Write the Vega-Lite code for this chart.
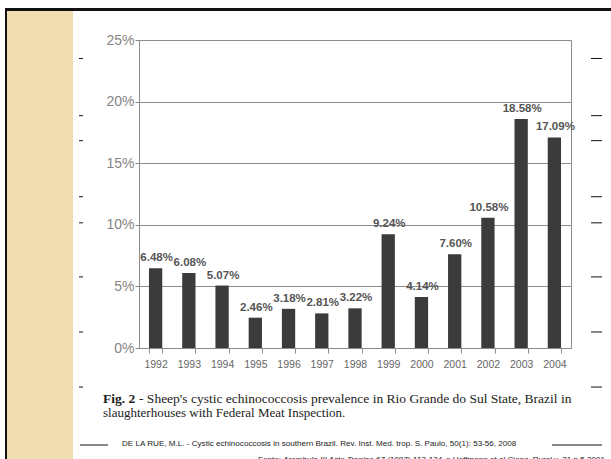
{
  "$schema": "https://vega.github.io/schema/vega-lite/v6.json",
  "width": 432,
  "height": 308,
  "autosize": {"type": "none"},
  "padding": {"left": 139, "top": 40, "right": 40, "bottom": 111},
  "background": "#ffffff",
  "config": {
    "view": {"stroke": "#8c8c8c", "strokeWidth": 1},
    "font": "Liberation Sans"
  },
  "data": {
    "values": [
      {"year": "1992", "value": 6.48, "label": "6.48%"},
      {"year": "1993", "value": 6.08, "label": "6.08%"},
      {"year": "1994", "value": 5.07, "label": "5.07%"},
      {"year": "1995", "value": 2.46, "label": "2.46%"},
      {"year": "1996", "value": 3.18, "label": "3.18%"},
      {"year": "1997", "value": 2.81, "label": "2.81%"},
      {"year": "1998", "value": 3.22, "label": "3.22%"},
      {"year": "1999", "value": 9.24, "label": "9.24%"},
      {"year": "2000", "value": 4.14, "label": "4.14%"},
      {"year": "2001", "value": 7.60, "label": "7.60%"},
      {"year": "2002", "value": 10.58, "label": "10.58%"},
      {"year": "2003", "value": 18.58, "label": "18.58%"},
      {"year": "2004", "value": 17.09, "label": "17.09%"}
    ]
  },
  "layer": [
    {
      "data": {"values": [{}]},
      "mark": {"type": "rect", "color": "#efdcb0"},
      "encoding": {"x": {"value": -132}, "x2": {"value": -66}, "y": {"value": -29}, "y2": {"value": 419}}
    },
    {
      "data": {"values": [{}]},
      "mark": {"type": "rect", "color": "#111111"},
      "encoding": {"x": {"value": -134}, "x2": {"value": 472}, "y": {"value": -32}, "y2": {"value": -29}}
    },
    {
      "data": {"values": [{}]},
      "mark": {"type": "rect", "color": "#111111"},
      "encoding": {"x": {"value": -134}, "x2": {"value": -132}, "y": {"value": -32}, "y2": {"value": 419}}
    },
    {
      "data": {"values": [{"d": 23.5}, {"d": 18.86}, {"d": 16.83}, {"d": 12.28}, {"d": 10.16}, {"d": 5.77}, {"d": 1.3}, {"d": -3.17}]},
      "mark": {"type": "rule", "color": "#111111", "strokeWidth": 1},
      "encoding": {"y": {"field": "d", "type": "quantitative"}, "x": {"value": -60}, "x2": {"value": -56}}
    },
    {
      "data": {"values": [{"d": 23.5}, {"d": 18.86}, {"d": 16.83}, {"d": 12.28}, {"d": 10.16}, {"d": 5.77}, {"d": 1.3}, {"d": -3.17}]},
      "mark": {"type": "rule", "color": "#111111", "strokeWidth": 1},
      "encoding": {"y": {"field": "d", "type": "quantitative"}, "x": {"value": 452}, "x2": {"value": 463}}
    },
    {
      "mark": {"type": "bar", "color": "#3b3b3b"},
      "encoding": {
        "x": {
          "field": "year", "type": "nominal", "sort": null,
          "scale": {"paddingInner": 0.6, "paddingOuter": 0.3},
          "axis": {
            "title": null, "labelAngle": 0, "tickBand": "extent", "grid": false,
            "domainColor": "#8c8c8c", "tickColor": "#8c8c8c", "tickSize": 5,
            "labelFont": "Liberation Sans", "labelFontSize": 10.5, "labelColor": "#666666", "labelPadding": 6
          }
        },
        "y": {
          "field": "value", "type": "quantitative",
          "scale": {"domain": [0, 25], "nice": false, "zero": true},
          "axis": {
            "title": null, "values": [0, 5, 10, 15, 20, 25], "labelExpr": "datum.value + '%'",
            "grid": true, "gridColor": "#8c8c8c", "domainColor": "#8c8c8c", "tickColor": "#8c8c8c",
            "tickSize": 4, "labelPadding": 1, "labelFont": "Liberation Sans", "labelFontSize": 14, "labelColor": "#858585"
          }
        }
      }
    },
    {
      "mark": {"type": "text", "baseline": "bottom", "dy": -5, "dx": 1, "font": "Liberation Sans", "fontSize": 11.5, "fontWeight": "bold", "color": "#555555"},
      "encoding": {
        "x": {"field": "year", "type": "nominal", "sort": null},
        "y": {"field": "value", "type": "quantitative"},
        "text": {"field": "label"}
      }
    },
    {
      "data": {"values": [{}]},
      "mark": {"type": "text", "align": "left", "baseline": "alphabetic", "font": "Liberation Serif", "fontSize": 13.5, "fontWeight": "bold", "color": "#222222"},
      "encoding": {"x": {"value": -36}, "y": {"value": 363}, "text": {"value": "Fig. 2"}}
    },
    {
      "data": {"values": [{}]},
      "mark": {"type": "text", "align": "left", "baseline": "alphabetic", "font": "Liberation Serif", "fontSize": 13.5, "color": "#222222"},
      "encoding": {"x": {"value": 0}, "y": {"value": 363}, "text": {"value": "- Sheep's cystic echinococcosis prevalence in Rio Grande do Sul State, Brazil in"}}
    },
    {
      "data": {"values": [{}]},
      "mark": {"type": "text", "align": "left", "baseline": "alphabetic", "font": "Liberation Serif", "fontSize": 13, "color": "#222222"},
      "encoding": {"x": {"value": -36}, "y": {"value": 377}, "text": {"value": "slaughterhouses with Federal Meat Inspection."}}
    },
    {
      "data": {"values": [{}]},
      "mark": {"type": "text", "align": "left", "baseline": "alphabetic", "font": "Liberation Sans", "fontSize": 8.1, "color": "#222222"},
      "encoding": {"x": {"value": -17}, "y": {"value": 406}, "text": {"value": "DE LA RUE, M.L. - Cystic echinococcosis in southern Brazil. Rev. Inst. Med. trop. S. Paulo, 50(1): 53-56, 2008"}}
    },
    {
      "data": {"values": [{}]},
      "mark": {"type": "rule", "color": "#111111", "strokeWidth": 1},
      "encoding": {"x": {"value": -59}, "x2": {"value": -31}, "y": {"value": 405}}
    },
    {
      "data": {"values": [{}]},
      "mark": {"type": "rule", "color": "#111111", "strokeWidth": 1},
      "encoding": {"x": {"value": 413}, "x2": {"value": 463}, "y": {"value": 405}}
    },
    {
      "data": {"values": [{}]},
      "mark": {"type": "text", "align": "left", "baseline": "alphabetic", "font": "Liberation Sans", "fontSize": 8.1, "color": "#222222"},
      "encoding": {"x": {"value": 119}, "y": {"value": 422}, "text": {"value": "Fonte:"}}
    },
    {
      "data": {"values": [{}]},
      "mark": {"type": "text", "align": "left", "baseline": "alphabetic", "font": "Liberation Sans", "fontSize": 8.1, "fontStyle": "italic", "color": "#222222"},
      "encoding": {"x": {"value": 144}, "y": {"value": 422}, "text": {"value": "Arambulo III Acta Tropica 67 (1997) 113-124"}}
    },
    {
      "data": {"values": [{}]},
      "mark": {"type": "text", "align": "left", "baseline": "alphabetic", "font": "Liberation Sans", "fontSize": 8.1, "color": "#222222"},
      "encoding": {"x": {"value": 307}, "y": {"value": 422}, "text": {"value": "e Hoffmann et al Cienc. Rural v. 31 n.5 2001"}}
    }
  ]
}
